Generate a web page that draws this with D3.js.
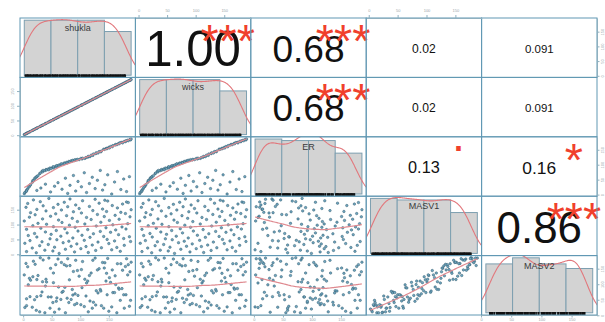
<!DOCTYPE html>
<html>
<head>
<meta charset="utf-8">
<script src="https://cdn.jsdelivr.net/npm/d3@7"></script>
<style>
  body { margin: 0; background: #fff; }
  svg { display: block; }
</style>
</head>
<body>
<div id="chart"></div>
<script>
// variable names on the diagonal
const names = ["shukla", "wicks", "ER", "MASV1", "MASV2"];

// observations (one entry per case, same order in every array)
const shukla = [2,3,5,6,6,8,9,11,12,13,16,17,18,20,21,23,24,24,26,29,30,31,33,34,35,38,39,40,41,44,45,47,48,49,52,53,53,55,57,58,59,61,62,63,66,67,68,70,72,73,74,76,77,78,80,81,82,84,86,87,88,90,91,92,94,95,96,98,101,102,103,104,107,108,110,111,113,114,116,117,119,121,122,123,126,127,128,130,131,133,135,136,137,139,141,142,143,145,146,147,148,150,151,153,155,156,157,160,161,162,164,165,167,168,170,171,173,174,176,177,179,180,181,183,184,186,187,188,189];
const wicks = [2,3,5,6,6,8,9,11,12,13,16,17,18,20,21,23,24,24,26,29,30,31,33,34,35,38,39,40,41,44,45,47,48,49,52,53,53,55,57,58,59,61,62,63,66,67,68,70,72,73,74,76,77,78,80,81,82,84,86,87,88,90,91,92,94,95,96,98,101,102,103,104,107,108,110,111,113,114,116,117,119,121,122,123,126,127,128,130,131,133,135,136,137,139,141,142,143,145,146,147,148,150,151,153,155,156,157,160,161,162,164,165,167,168,170,171,173,174,176,177,179,180,181,183,184,186,187,188,189];
const ER = [3,7,10,15,12,19,24,27,32,33,41,47,46,53,56,58,14,61,63,70,72,22,78,76,81,80,35,84,82,86,83,89,9,87,92,89,93,28,95,92,97,40,97,99,101,103,18,102,106,104,55,108,106,4,111,109,31,113,112,115,64,114,117,12,116,118,44,117,121,26,119,122,73,121,124,7,125,128,37,127,132,58,131,136,20,137,140,48,139,144,81,143,146,15,152,151,33,153,155,154,66,158,156,161,2,160,164,42,166,168,167,77,171,170,174,17,175,173,52,178,177,180,10,182,180,60,185,183,186];
const MASV1 = [112,37,158,84,9,171,63,125,46,140,21,96,183,70,133,5,151,58,104,29,177,88,42,119,163,14,75,146,101,33,188,52,128,67,11,157,93,24,136,80,49,168,115,3,61,149,107,39,175,86,17,130,72,160,44,98,186,27,121,55,143,8,91,166,35,110,78,154,19,139,64,180,47,102,26,124,83,6,161,57,117,31,147,69,185,13,95,134,41,172,77,108,22,152,60,127,182,89,144,50,179,36,114,74,15,164,99,45,131,82,23,156,66,118,10,141,92,169,53,30,137,85,176,103,174,59,126,43,150];
const MASV2 = [130,25,167,53,31,156,98,119,60,113,26,124,174,50,164,16,115,60,128,11,185,63,75,108,178,8,94,116,107,59,184,23,151,59,41,136,105,10,163,45,56,181,91,20,51,170,74,77,163,90,8,159,55,182,41,114,160,51,83,65,141,34,69,177,38,144,64,126,34,147,89,173,28,116,62,104,110,11,128,46,136,23,177,42,184,33,79,146,72,150,83,78,31,170,23,152,169,110,135,66,183,13,121,106,27,146,73,73,127,99,8,166,88,84,48,166,86,145,66,23,157,66,182,130,163,29,140,48,171];

const tickValues = [0, 50, 100, 150];
const histBreaks = [0, 50, 100, 150, 200];

// upper panels: correlation text and significance stars
const corRows   = [0, 0, 0, 0, 1, 1, 1, 2, 2, 3];
const corCols   = [1, 2, 3, 4, 2, 3, 4, 3, 4, 4];
const corLabels = ["1.00", "0.68", "0.02", "0.091", "0.68", "0.02", "0.091", "0.13", "0.16", "0.86"];
const corStars  = ["***", "***", "", "", "***", "", "", ".", "*", "***"];

const vars = [shukla, wicks, ER, MASV1, MASV2];

const W = 605, H = 322;
const gLeft = 20, gTop = 18, gridW = 577, gridH = 297;
const nv = vars.length;
const pw = gridW / nv, ph = gridH / nv;

const col = {
  border: "#6198b3",
  bar: "#d3d3d3",
  barStroke: "#7d9fb0",
  dens: "#e2777c",
  smooth: "#df8a90",
  point: "#6fa6c0",
  pointStroke: "#2a5264",
  axis: "#8fb0bf",
  axisText: "#9aa6ab",
  stars: "#f0402c"
};

const svg = d3.select("#chart").append("svg")
  .attr("width", W)
  .attr("height", H)
  .style("font-family", "'Liberation Sans', Arial, sans-serif");

// R style ranges: data extent plus 4% on each side
const domains = vars.map(v => {
  const [a, b] = d3.extent(v);
  const p = 0.04 * (b - a);
  return [a - p, b + p];
});
const xs = j => d3.scaleLinear().domain(domains[j]).range([gLeft + j * pw, gLeft + (j + 1) * pw]);
const ys = i => d3.scaleLinear().domain(domains[i]).range([gTop + (i + 1) * ph, gTop + i * ph]);

const defs = svg.append("defs");
for (let i = 0; i < nv; i++) {
  for (let j = 0; j < nv; j++) {
    defs.append("clipPath").attr("id", `clip-${i}-${j}`)
      .append("rect")
      .attr("x", gLeft + j * pw).attr("y", gTop + i * ph)
      .attr("width", pw).attr("height", ph);
  }
}

// lowess smoother, like R's panel.smooth
function lowess(x, y, f = 2 / 3, iter = 3) {
  const order = d3.range(x.length).sort((a, b) => x[a] - x[b]);
  const xv = order.map(k => x[k]), yv = order.map(k => y[k]);
  const n = xv.length, r = Math.ceil(f * n);
  let rw = new Array(n).fill(1);
  const fit = new Array(n);
  for (let it = 0; it <= iter; it++) {
    for (let i = 0; i < n; i++) {
      const dist = xv.map(v => Math.abs(v - xv[i]));
      const h = Math.max(dist.slice().sort((a, b) => a - b)[r - 1], 1e-9);
      let sw = 0, sx = 0, sy = 0, sxx = 0, sxy = 0;
      for (let k = 0; k < n; k++) {
        const u = dist[k] / h;
        if (u >= 1) continue;
        const w = Math.pow(1 - u * u * u, 3) * rw[k];
        sw += w; sx += w * xv[k]; sy += w * yv[k];
        sxx += w * xv[k] * xv[k]; sxy += w * xv[k] * yv[k];
      }
      if (sw <= 0) { fit[i] = yv[i]; continue; }
      const mx = sx / sw, my = sy / sw, vx = sxx / sw - mx * mx;
      const b = vx > 1e-9 ? (sxy / sw - mx * my) / vx : 0;
      fit[i] = my + b * (xv[i] - mx);
    }
    if (it === iter) break;
    const res = yv.map((v, k) => Math.abs(v - fit[k]));
    const m = 6 * d3.median(res);
    rw = res.map(v => { const u = v / m; return u < 1 ? (1 - u * u) * (1 - u * u) : 0; });
  }
  return xv.map((v, k) => [v, fit[k]]);
}

// gaussian kernel density with R's default bandwidth
function kde(values) {
  const n = values.length;
  const sorted = values.slice().sort(d3.ascending);
  const iqr = d3.quantileSorted(sorted, 0.75) - d3.quantileSorted(sorted, 0.25);
  const bw = 0.9 * Math.min(d3.deviation(values), iqr / 1.34) * Math.pow(n, -0.2);
  const lo = sorted[0] - 3 * bw, hi = sorted[n - 1] + 3 * bw;
  const steps = 256;
  return d3.range(steps + 1).map(s => {
    const x = lo + (hi - lo) * s / steps;
    const d = d3.sum(values, v => Math.exp(-0.5 * ((x - v) / bw) ** 2)) / (n * bw * Math.sqrt(2 * Math.PI));
    return [x, d];
  });
}

// scatter panels below the diagonal
for (let i = 0; i < nv; i++) {
  for (let j = 0; j < i; j++) {
    const x = xs(j), y = ys(i);
    const g = svg.append("g").attr("clip-path", `url(#clip-${i}-${j})`);
    g.selectAll("circle")
      .data(vars[j].map((v, k) => [v, vars[i][k]]))
      .join("circle")
      .attr("cx", d => x(d[0]))
      .attr("cy", d => y(d[1]))
      .attr("r", 1.25)
      .attr("fill", col.point)
      .attr("stroke", col.pointStroke)
      .attr("stroke-width", 0.45);
    g.append("path")
      .datum(lowess(vars[j], vars[i]))
      .attr("d", d3.line().x(d => x(d[0])).y(d => y(d[1])))
      .attr("fill", "none")
      .attr("stroke", col.smooth)
      .attr("stroke-width", 1.2);
  }
}

// histograms on the diagonal
for (let i = 0; i < nv; i++) {
  const v = vars[i], n = v.length;
  const x0 = gLeft + i * pw, y0 = gTop + i * ph;
  const bins = histBreaks.slice(0, -1).map((lo, k) => {
    const hi = histBreaks[k + 1];
    const c = v.filter(d => (k === 0 ? d >= lo : d > lo) && d <= hi).length;
    return { lo, hi, dens: c / (n * (hi - lo)) };
  });
  const b0 = histBreaks[0], b1 = histBreaks[histBreaks.length - 1];
  const hx = d3.scaleLinear().domain([b0 - 0.04 * (b1 - b0), b1 + 0.04 * (b1 - b0)]).range([x0, x0 + pw]);
  const dmax = d3.max(bins, b => b.dens);
  const hy = d3.scaleLinear().domain([-0.04 * dmax, 1.04 * dmax]).range([y0 + ph, y0]);

  const g = svg.append("g").attr("clip-path", `url(#clip-${i}-${i})`);
  g.selectAll("rect.bar")
    .data(bins)
    .join("rect")
    .attr("class", "bar")
    .attr("x", d => hx(d.lo))
    .attr("y", d => hy(d.dens))
    .attr("width", d => hx(d.hi) - hx(d.lo))
    .attr("height", d => hy(0) - hy(d.dens))
    .attr("fill", col.bar)
    .attr("stroke", col.barStroke)
    .attr("stroke-width", 1);

  g.append("path")
    .datum(kde(v))
    .attr("d", d3.line().x(d => hx(d[0])).y(d => hy(d[1])))
    .attr("fill", "none")
    .attr("stroke", col.dens)
    .attr("stroke-width", 1.1);

  // rug
  g.selectAll("line.rug")
    .data(v)
    .join("line")
    .attr("class", "rug")
    .attr("x1", d => hx(d)).attr("x2", d => hx(d))
    .attr("y1", y0 + ph).attr("y2", y0 + ph - 3)
    .attr("stroke", "#111")
    .attr("stroke-width", 1.6);

  svg.append("text")
    .attr("x", x0 + pw / 2)
    .attr("y", y0 + 10)
    .attr("dominant-baseline", "central")
    .attr("text-anchor", "middle")
    .attr("font-size", 9)
    .attr("fill", "#3a3a3a")
    .text(names[i]);
}

// correlations above the diagonal
corLabels.forEach((label, k) => {
  const i = corRows[k], j = corCols[k];
  const x0 = gLeft + j * pw, y0 = gTop + i * ph;
  const t = svg.append("text")
    .attr("text-anchor", "middle")
    .attr("font-size", 10)
    .attr("fill", "#111")
    .text(label);
  const wpx = t.node().getComputedTextLength() / 10;
  const cex = 0.83 * pw / wpx;
  const r = Math.abs(+label);
  const fs = cex * (r + 0.3) / 1.3;
  t.attr("font-size", fs)
    .attr("x", x0 + pw / 2)
    .attr("y", y0 + ph / 2 + 1 + 0.358 * fs);

  const s = corStars[k];
  if (s) {
    const sfs = cex * 0.95;
    const off = s === "." ? 0.05 : 0.58;
    svg.append("text")
      .attr("text-anchor", "middle")
      .attr("font-size", sfs)
      .attr("fill", col.stars)
      .attr("x", x0 + 0.8 * pw)
      .attr("y", y0 + 0.2 * ph + off * sfs)
      .text(s);
  }
});

// panel borders
for (let i = 0; i < nv; i++) {
  for (let j = 0; j < nv; j++) {
    svg.append("rect")
      .attr("x", gLeft + j * pw).attr("y", gTop + i * ph)
      .attr("width", pw).attr("height", ph)
      .attr("fill", "none")
      .attr("stroke", col.border)
      .attr("stroke-width", 1);
  }
}

// outer axes, alternating sides like pairs()
function styleAxis(g) {
  g.attr("font-size", 4).attr("font-family", null);
  g.select(".domain").attr("stroke", col.axis);
  g.selectAll(".tick line").attr("stroke", col.axis);
  g.selectAll(".tick text").attr("fill", col.axisText);
}
for (let j = 0; j < nv; j++) {
  if (j % 2 === 1) {
    svg.append("g").attr("transform", `translate(0,${gTop})`)
      .call(d3.axisTop(xs(j)).tickValues(tickValues).tickSize(3).tickSizeOuter(0).tickPadding(3))
      .call(styleAxis);
  } else {
    const g = svg.append("g").attr("transform", `translate(0,${gTop + gridH})`)
      .call(d3.axisBottom(xs(j)).tickValues(tickValues).tickSize(2.5).tickSizeOuter(0).tickPadding(1))
      .call(styleAxis);
    g.selectAll(".tick text").attr("dy", "0.7em");
  }
}
for (let i = 0; i < nv; i++) {
  if (i % 2 === 1) {
    const g = svg.append("g").attr("transform", `translate(${gLeft},0)`)
      .call(d3.axisLeft(ys(i)).tickValues(tickValues).tickSize(3).tickSizeOuter(0).tickPadding(2))
      .call(styleAxis);
    g.selectAll(".tick text")
      .attr("transform", "rotate(-90)")
      .attr("x", 0).attr("y", -6).attr("dy", 0)
      .attr("text-anchor", "middle");
  } else {
    const g = svg.append("g").attr("transform", `translate(${gLeft + gridW},0)`)
      .call(d3.axisRight(ys(i)).tickValues(tickValues).tickSize(2.5).tickSizeOuter(0).tickPadding(1))
      .call(styleAxis);
    g.selectAll(".tick text")
      .attr("transform", "rotate(-90)")
      .attr("x", 0).attr("y", 6.8).attr("dy", 0)
      .attr("text-anchor", "middle");
  }
}
</script>
</body>
</html>
